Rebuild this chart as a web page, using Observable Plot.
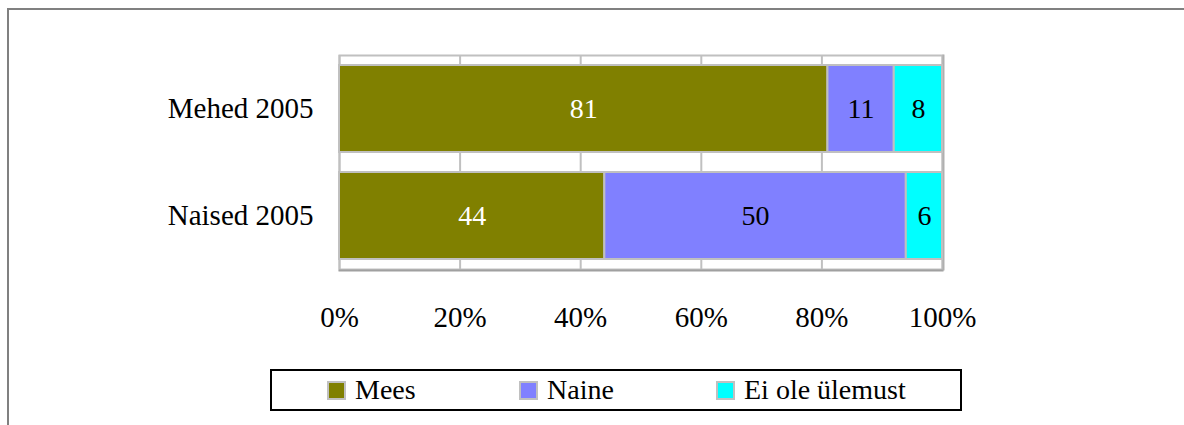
<!DOCTYPE html>
<html><head><meta charset="utf-8">
<script src="https://cdn.jsdelivr.net/npm/d3@7"></script>
<script src="https://cdn.jsdelivr.net/npm/@observablehq/plot@0.6"></script>
<style>
body{margin:0;background:#fff;}
#wrap{position:relative;width:1184px;height:425px;overflow:hidden;font-family:"Liberation Serif","Times New Roman",serif;}
#outer{position:absolute;left:7px;top:8px;width:1200px;height:430px;border-left:2px solid #808080;border-top:2px solid #808080;}
#chart{position:absolute;left:0;top:0;}
#legend{position:absolute;left:270px;top:369px;width:688px;height:38px;border:2px solid #000;font-size:28px;}
.item{position:absolute;top:0;height:38px;display:flex;align-items:center;gap:9px;}
.item span{line-height:38px;}
.sw{width:15px;height:15px;border:2px solid #c0c0c0;}
</style></head>
<body><div id="wrap"><div id="outer"></div><div id="chart"></div><div id="legend"></div></div>
<script>
const categories = ["Mehed 2005", "Naised 2005"];
const seriesNames = ["Mees", "Naine", "Ei ole ülemust"];
const meesValues = [81, 44];
const naineValues = [11, 50];
const eiOleValues = [8, 6];
const seriesColors = ["#808000", "#8080ff", "#00ffff"];
const labelColors = ["#ffffff", "#000000", "#000000"];
const xTicks = [0, 20, 40, 60, 80, 100];

const allValues = [meesValues, naineValues, eiOleValues];
const data = [];
seriesNames.forEach((s, si) => categories.forEach((c, ci) => data.push({cat: c, series: s, value: allValues[si][ci], label: labelColors[si]})));

const chart = Plot.plot({
  width: 1184, height: 360,
  marginLeft: 339, marginRight: 242, marginTop: 55, marginBottom: 91,
  style: {fontFamily: "Liberation Serif, Times New Roman, serif", fontSize: "29px", color: "#000", background: "transparent"},
  x: {domain: [0, 100], ticks: xTicks, tickFormat: d => d + "%", tickSize: 0, tickPadding: 37, label: null},
  y: {domain: categories, paddingInner: 0.19, paddingOuter: 0.09, tickSize: 0, tickPadding: 26, label: null},
  color: {domain: seriesNames, range: seriesColors},
  marks: [
    Plot.ruleX(xTicks, {stroke: "#c0c0c0", strokeWidth: 2}),
    Plot.frame({stroke: "#c0c0c0", strokeWidth: 2}),
    Plot.frame({anchor: "bottom", stroke: "#a0a0a0", strokeWidth: 2, dy: 1}),
    Plot.frame({anchor: "right", stroke: "#b0b0b0", strokeWidth: 2, dx: 1}),
    Plot.barX(data, Plot.stackX({x: "value", y: "cat", fill: "series", order: seriesNames, stroke: "#c0c0c0", strokeWidth: 2})),
    Plot.text(data, Plot.stackX({x: "value", y: "cat", z: "series", order: seriesNames, text: d => String(d.value),
      fill: "label", fontSize: 28}))
  ]
});
document.getElementById("chart").appendChild(chart);

const legend = document.getElementById("legend");
const legendX = [55, 247, 444];
seriesNames.forEach((s, i) => {
  const it = document.createElement("div");
  it.className = "item";
  it.style.left = legendX[i] + "px";
  const sw = document.createElement("div");
  sw.className = "sw";
  sw.style.background = seriesColors[i];
  const t = document.createElement("span");
  t.textContent = s;
  it.appendChild(sw); it.appendChild(t);
  legend.appendChild(it);
});
</script></body></html>
